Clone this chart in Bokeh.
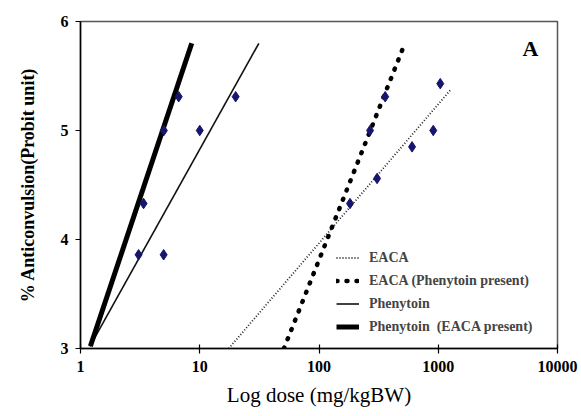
from bokeh.plotting import figure
from bokeh.models import Legend, LegendItem, FixedTicker, Label
from bokeh.embed import file_html
from bokeh.resources import INLINE

# ---- data ----
x_ticks = [1, 10, 100, 1000, 10000]
x_tick_labels = ["1", "10", "100", "1000", "10000"]
y_ticks = [3, 4, 5, 6]

phenytoin_dose = [3.07, 4.98, 10, 20]
phenytoin_probit = [3.86, 3.86, 5.0, 5.31]
phen_eaca_dose = [3.38, 5.0, 6.66]
phen_eaca_probit = [4.33, 5.0, 5.31]
eaca_dose = [182, 307, 603, 908, 1040]
eaca_probit = [4.33, 4.56, 4.85, 5.0, 5.43]
eaca_phen_dose = [268, 359]
eaca_phen_probit = [5.0, 5.31]

# fitted regression lines (end points)
eaca_fit_dose = [17.5, 1285]
eaca_fit_probit = [3.0, 5.38]
eaca_phen_fit_dose = [50.8, 508]
eaca_phen_fit_probit = [3.0, 5.76]
phen_fit_dose = [1.2, 31.3]
phen_fit_probit = [3.02, 5.80]
phen_eaca_fit_dose = [1.21, 8.57]
phen_eaca_fit_probit = [3.02, 5.80]

legend_labels = ["EACA", "EACA (Phenytoin present)", "Phenytoin", "Phenytoin  (EACA present)"]

FONT = "Liberation Serif"

p = figure(width=581, height=416, x_axis_type="log", x_range=(1, 10000), y_range=(3, 6),
           output_backend="svg", toolbar_location=None,
           min_border_left=80, min_border_right=24, min_border_top=21, min_border_bottom=68)
p.background_fill_color = "white"
p.border_fill_color = "white"
p.outline_line_color = "#555555"
p.outline_line_width = 1.5
p.grid.visible = False

# axes
p.xaxis.ticker = FixedTicker(ticks=x_ticks)
p.xaxis.major_label_overrides = {t: l for t, l in zip(x_ticks, x_tick_labels)}
p.yaxis.ticker = FixedTicker(ticks=y_ticks)
for ax in (p.xaxis, p.yaxis):
    ax.axis_line_color = "black"
    ax.axis_line_width = 1.5
    ax.major_tick_line_color = "black"
    ax.major_tick_line_width = 1.2
    ax.major_tick_out = 5
    ax.major_tick_in = 0
    ax.minor_tick_line_color = None
    ax.major_label_text_font = FONT
    ax.major_label_text_font_style = "bold"
    ax.major_label_text_font_size = "16px"
    ax.major_label_text_color = "black"
    ax.axis_label_text_font = FONT
    ax.axis_label_text_color = "black"
    ax.major_label_standoff = 7
p.xaxis.major_tick_in = 4
p.xaxis.axis_label = "Log dose (mg/kgBW)"
p.xaxis.axis_label_text_font_style = "normal"
p.xaxis.axis_label_text_font_size = "21px"
p.xaxis.axis_label_standoff = 8
p.yaxis.axis_label = "% Anticonvulsion(Probit unit)"
p.yaxis.axis_label_text_font_style = "bold"
p.yaxis.axis_label_text_font_size = "18px"
p.yaxis.axis_label_standoff = 20

# fitted lines
r_eaca = p.line(eaca_fit_dose, eaca_fit_probit, line_color="#222222", line_width=1.8, line_dash="1 2")
r_eaca_phen = p.line(eaca_phen_fit_dose, eaca_phen_fit_probit, line_color="black", line_width=4.5,
                     line_dash="1 9", line_cap="round")
r_phen = p.line(phen_fit_dose, phen_fit_probit, line_color="#111111", line_width=1.6)
r_phen_eaca = p.line(phen_eaca_fit_dose, phen_eaca_fit_probit, line_color="black", line_width=5)

# data points
pt_color = "#16166e"
for xs, ys in ((phenytoin_dose, phenytoin_probit), (phen_eaca_dose, phen_eaca_probit),
               (eaca_dose, eaca_probit), (eaca_phen_dose, eaca_phen_probit)):
    p.scatter(xs, ys, marker="diamond", size=10.5, fill_color=pt_color, line_color=pt_color)

legend = Legend(items=[LegendItem(label=legend_labels[0], renderers=[r_eaca]),
                       LegendItem(label=legend_labels[1], renderers=[r_eaca_phen]),
                       LegendItem(label=legend_labels[2], renderers=[r_phen]),
                       LegendItem(label=legend_labels[3], renderers=[r_phen_eaca])],
                location=(256, 11), padding=0, margin=0, spacing=2,
                glyph_width=23, glyph_height=21, label_height=21, label_standoff=10,
                label_text_font=FONT, label_text_font_style="bold", label_text_font_size="14px",
                border_line_color=None, background_fill_alpha=0)
p.add_layout(legend)

p.add_layout(Label(x=5930, y=5.75, text="A", text_font=FONT, text_font_style="bold",
                   text_font_size="22px", text_align="center", text_baseline="middle",
                   text_color="black"))

open("out.html", "w").write(file_html(p, INLINE))
